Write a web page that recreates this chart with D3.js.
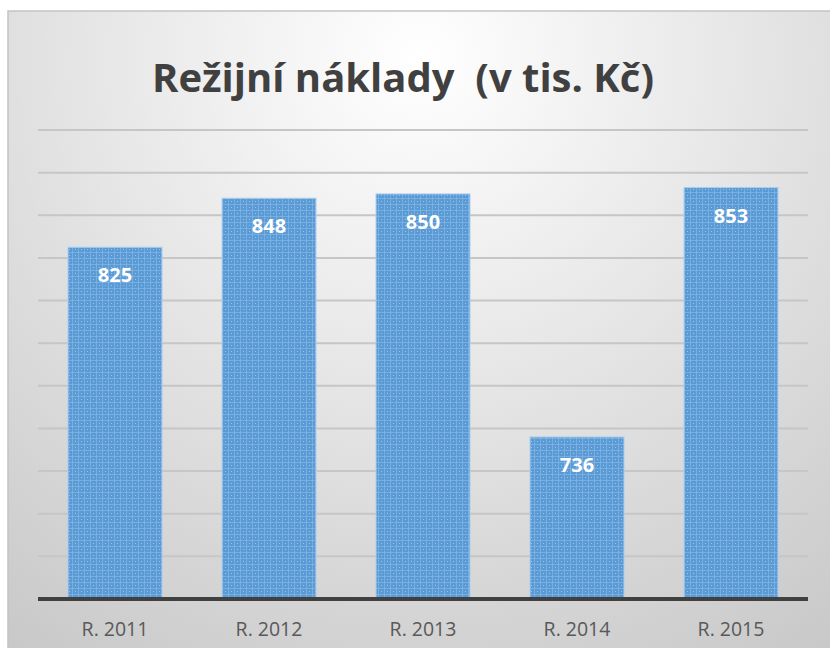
<!DOCTYPE html>
<html>
<head>
<meta charset="utf-8">
<script src="https://cdn.jsdelivr.net/npm/d3@7"></script>
<style>
  body { margin: 0; background: #fff; }
  svg { display: block; }
</style>
</head>
<body>
<div id="chart"></div>
<script>
var categories = ['R. 2011', 'R. 2012', 'R. 2013', 'R. 2014', 'R. 2015'];
var values = [825, 848, 850, 736, 853];
var yDomain = [660, 880];
var yTicks = d3.range(660, 881, 20);
var title = 'Režijní náklady  (v tis. Kč)';

var width = 830, height = 648;
var svg = d3.select('#chart').append('svg')
  .attr('width', width)
  .attr('height', height);

var defs = svg.append('defs');

// background gradient, light in the top middle, greyer to the edges
var bg = defs.append('radialGradient')
  .attr('id', 'bg')
  .attr('gradientUnits', 'userSpaceOnUse')
  .attr('cx', 420).attr('cy', 60).attr('r', 720);
bg.append('stop').attr('offset', '0%').attr('stop-color', '#ffffff');
bg.append('stop').attr('offset', '100%').attr('stop-color', '#c8c8c8');

// small dotted texture on the bars
var pat = defs.append('pattern')
  .attr('id', 'barFill')
  .attr('patternUnits', 'userSpaceOnUse')
  .attr('width', 6).attr('height', 6);
pat.append('rect').attr('width', 6).attr('height', 6).attr('fill', '#5b9bd5');
pat.append('rect').attr('x', 0).attr('y', 0).attr('width', 1).attr('height', 6).attr('fill', '#8cbbe6').attr('opacity', 0.6);
pat.append('rect').attr('x', 0).attr('y', 0).attr('width', 6).attr('height', 1).attr('fill', '#8cbbe6').attr('opacity', 0.6);
pat.append('rect').attr('x', 3).attr('y', 3).attr('width', 1).attr('height', 1).attr('fill', '#9cc6ec');

svg.append('rect')
  .attr('x', 8).attr('y', 11)
  .attr('width', width).attr('height', height)
  .attr('fill', 'url(#bg)')
  .attr('stroke', '#c4c4c4')
  .attr('stroke-width', 1.5);

svg.append('text')
  .attr('x', 403)
  .attr('y', 92)
  .attr('text-anchor', 'middle')
  .style('white-space', 'pre')
  .style('font-family', '"Open Sans", sans-serif')
  .style('font-weight', 700)
  .style('font-size', '40px')
  .style('fill', '#404040')
  .text(title);

var margin = { left: 38, right: 22, top: 130, bottom: 49 };

var x = d3.scaleBand()
  .domain(categories)
  .range([margin.left, width - margin.right])
  .paddingInner(0.39)
  .paddingOuter(0.195);

var y = d3.scaleLinear()
  .domain(yDomain)
  .range([height - margin.bottom, margin.top]);

// gridlines
svg.append('g')
  .selectAll('line')
  .data(yTicks.slice(1))
  .enter()
  .append('line')
  .attr('x1', margin.left)
  .attr('x2', width - margin.right)
  .attr('y1', function(d) { return y(d); })
  .attr('y2', function(d) { return y(d); })
  .style('stroke', '#c6c6c6')
  .style('stroke-width', 2);

// bars
svg.append('g')
  .selectAll('rect')
  .data(values)
  .enter()
  .append('rect')
  .attr('x', function(d, i) { return x(categories[i]); })
  .attr('y', function(d) { return y(d); })
  .attr('width', x.bandwidth())
  .attr('height', function(d) { return y(yDomain[0]) - y(d); })
  .style('fill', 'url(#barFill)')
  .style('stroke', '#a9cdf0')
  .style('stroke-width', 1);

// data labels
svg.append('g')
  .selectAll('text')
  .data(values)
  .enter()
  .append('text')
  .attr('x', function(d, i) { return x(categories[i]) + x.bandwidth() / 2; })
  .attr('y', function(d) { return y(d) + 35; })
  .attr('text-anchor', 'middle')
  .style('font-family', '"Open Sans", sans-serif')
  .style('font-weight', 700)
  .style('font-size', '20px')
  .style('fill', '#ffffff')
  .text(function(d) { return d; });

// x axis
var xAxis = svg.append('g')
  .attr('transform', 'translate(0,' + y(yDomain[0]) + ')')
  .call(d3.axisBottom(x).tickSize(0).tickPadding(23));
xAxis.select('.domain')
  .attr('d', 'M' + margin.left + ',0H' + (width - margin.right))
  .style('stroke', '#404040')
  .style('stroke-width', 4);
xAxis.selectAll('text')
  .style('font-family', '"Open Sans", sans-serif')
  .style('font-size', '19.5px')
  .style('fill', '#595959');
</script>
</body>
</html>
